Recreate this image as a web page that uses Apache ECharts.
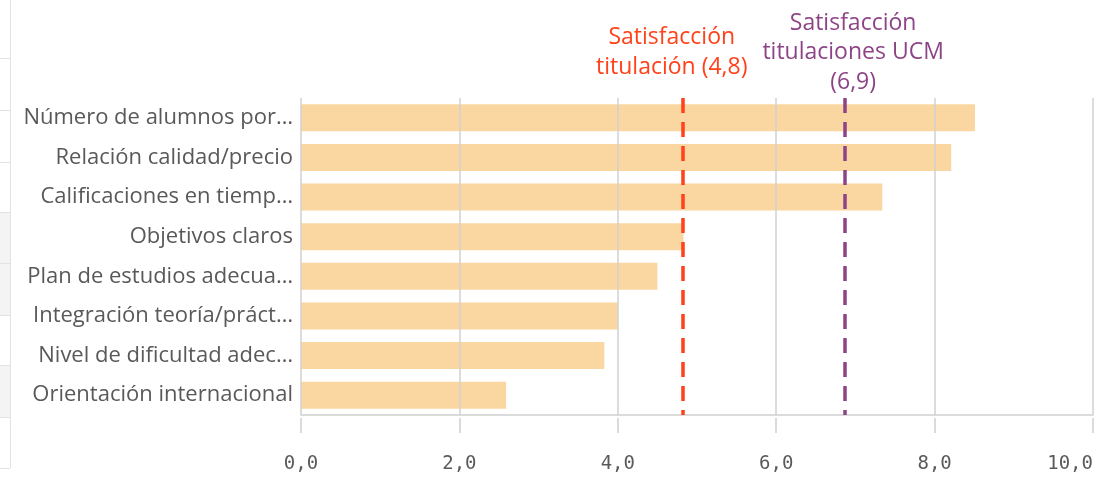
<!DOCTYPE html>
<html>
<head lang="es">
    <meta charset="UTF-8">
    <title>Satisfacción titulación</title>
    <style>
        html,body{margin:0;padding:0;background:#fff;}
        #main{width:1111px;height:479px;}
    </style>
</head>
<body>
<div id="main"></div>

<script src="https://cdn.jsdelivr.net/npm/echarts@6/dist/echarts.min.js"></script>
<script>
    var categories = [
        'Número de alumnos por…',
        'Relación calidad/precio',
        'Calificaciones en tiemp…',
        'Objetivos claros',
        'Plan de estudios adecua…',
        'Integración teoría/práct…',
        'Nivel de dificultad adec…',
        'Orientación internacional'
    ];
    var values = [8.51, 8.21, 7.34, 4.83, 4.50, 4.00, 3.83, 2.59];

    var refValues = [4.82, 6.87];
    var refLabels = ['Satisfacción\ntitulación (4,8)', 'Satisfacción\ntitulaciones UCM\n(6,9)'];
    var refColors = ['#ff4219', '#8d4486'];

    var xTicks = ['0,0', '2,0', '4,0', '6,0', '8,0', '10,0'];

    var myChart = echarts.init(document.getElementById('main'));

    // panel borders cut off on the left edge
    var deco = [{
        type: 'line', shape: {x1: 10.5, y1: 0, x2: 10.5, y2: 468},
        style: {stroke: '#e3e3e3', lineWidth: 1}
    }];
    [[212, 315], [365, 417]].forEach(function (r) {
        deco.push({type: 'rect', shape: {x: 0, y: r[0], width: 10, height: r[1] - r[0]},
            style: {fill: '#f4f4f4'}});
    });
    [58, 110, 162, 212, 263, 315, 365, 417, 468].forEach(function (y) {
        deco.push({type: 'line', shape: {x1: 0, y1: y + 0.5, x2: 10, y2: y + 0.5},
            style: {stroke: '#e3e3e3', lineWidth: 1}});
    });

    var markData = refValues.map(function (v, i) {
        return {
            xAxis: v,
            lineStyle: {color: refColors[i], type: [15, 9], width: 3.5},
            label: {
                show: true,
                position: 'start',
                formatter: refLabels[i],
                color: refColors[i],
                fontFamily: 'Open Sans',
                fontSize: 23,
                lineHeight: 29.5,
                align: 'center',
                distance: i === 0 ? 16 : 1,
                offset: i === 0 ? [-11, 0] : [8, 0]
            }
        };
    });

    var option = {
        backgroundColor: '#fff',
        animation: false,
        graphic: deco,
        grid: {left: 301, right: 18, top: 98, bottom: 64, containLabel: false, outerBoundsMode: 'none'},
        xAxis: [{
            type: 'value', min: 0, max: 10, interval: 2, z: 3, position: 'bottom',
            axisLine: {show: true, lineStyle: {color: '#d0d0d0', width: 1.5}},
            axisTick: {show: false},
            axisLabel: {show: false},
            splitLine: {show: true, lineStyle: {color: '#d0d0d0', width: 1.5}}
        }, {
            type: 'value', min: 0, max: 10, interval: 2, offset: 3, position: 'bottom',
            axisLine: {show: false},
            axisTick: {show: true, length: 15, lineStyle: {color: '#d0d0d0', width: 1.5}},
            splitLine: {show: false},
            axisLabel: {
                margin: 37, color: '#5a5a5a', fontSize: 19, fontFamily: 'DejaVu Sans Mono',
                alignMaxLabel: 'right',
                formatter: function (v) { return xTicks[v / 2]; }
            }
        }],
        yAxis: {
            type: 'category',
            inverse: true,
            data: categories,
            axisLine: {show: false},
            axisTick: {show: false},
            splitLine: {show: false},
            axisLabel: {color: '#595959', fontSize: 22, fontFamily: 'Open Sans', margin: 8}
        },
        series: [{
            type: 'bar',
            data: values,
            barWidth: '68%',
            itemStyle: {color: '#fad6a0'},
            markLine: {
                silent: true,
                symbol: 'none',
                z: 5,
                data: markData
            }
        }]
    };
    myChart.setOption(option);
</script>
</body>
</html>
